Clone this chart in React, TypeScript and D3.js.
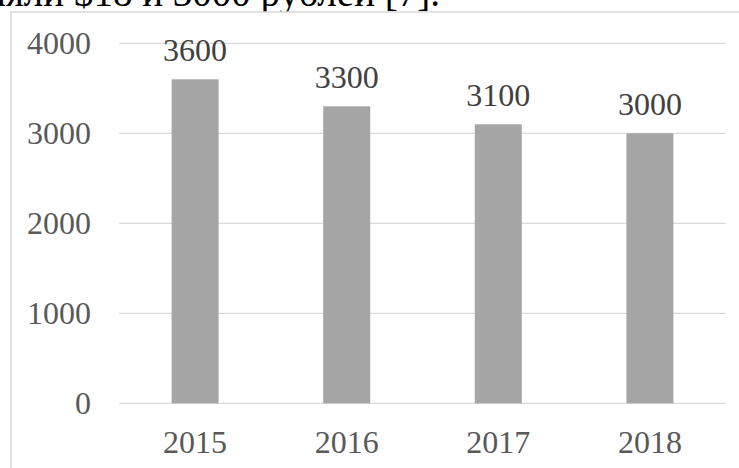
import React from "react";
import * as d3 from "d3";

const categories = ["2015", "2016", "2017", "2018"];
const values = [3600, 3300, 3100, 3000];
const yTicks = [0, 1000, 2000, 3000, 4000];
const headerText = "ляли $18 и 3000 рублей [7].";

export default function App() {
  const W = 739;
  const H = 468;
  const x = d3
    .scaleBand<string>()
    .domain(categories)
    .range([119.3, 725.7])
    .paddingInner(0.69)
    .paddingOuter(0.345);
  const y = d3.scaleLinear().domain([0, 4000]).range([403.3, 43.3]);
  const font = "'Liberation Serif', 'Times New Roman', serif";
  const fs = 32;
  return (
    <svg
      width={W}
      height={H}
      style={{ position: "absolute", left: 0, top: 0, background: "#fff" }}
      fontFamily={font}
    >
      <text x={440} y={6} textAnchor="end" fontSize={39} fill="#000">
        {headerText}
      </text>
      <rect x={11} y={12} width={760} height={480} fill="#fff" stroke="#d9d9d9" strokeWidth={1.5} />
      {yTicks.map((t) => (
        <line key={"g" + t} x1={119.3} x2={725.7} y1={y(t)} y2={y(t)} stroke="#d9d9d9" strokeWidth={1.3} />
      ))}
      {categories.map((c, i) => (
        <rect
          key={c}
          x={x(c)}
          y={y(values[i])}
          width={x.bandwidth()}
          height={y(0) - y(values[i])}
          fill="#a5a5a5"
        />
      ))}
      {categories.map((c, i) => (
        <text
          key={"l" + c}
          x={(x(c) as number) + x.bandwidth() / 2}
          y={y(values[i]) - 18.5}
          textAnchor="middle"
          fontSize={fs}
          fill="#404040"
        >
          {values[i]}
        </text>
      ))}
      {yTicks.map((t) => (
        <text key={"t" + t} x={91} y={y(t) + 11} textAnchor="end" fontSize={fs} fill="#595959">
          {t}
        </text>
      ))}
      {categories.map((c) => (
        <text
          key={"x" + c}
          x={(x(c) as number) + x.bandwidth() / 2}
          y={452.7}
          textAnchor="middle"
          fontSize={fs}
          fill="#595959"
        >
          {c}
        </text>
      ))}
    </svg>
  );
}
